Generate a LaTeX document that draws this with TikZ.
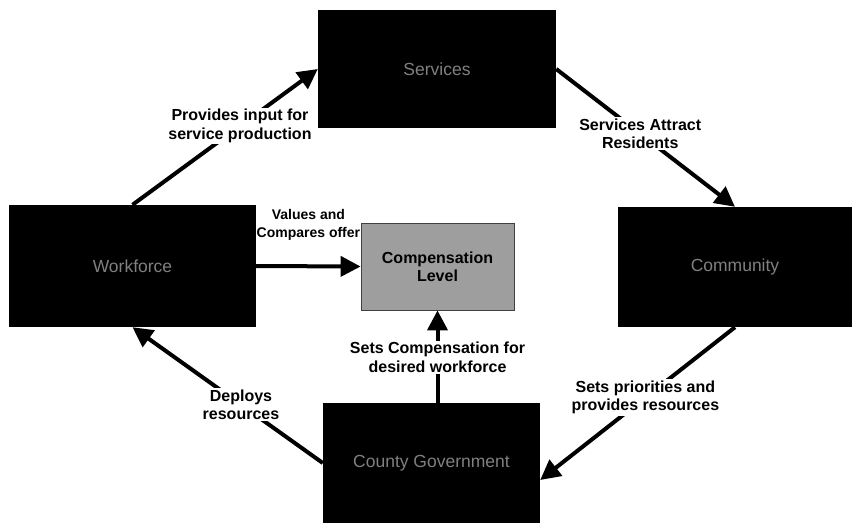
\documentclass[tikz,border=0pt]{standalone}
\usepackage{fontspec}
\setmainfont{Liberation Sans}
\usetikzlibrary{arrows.meta}

\begin{document}
\begin{tikzpicture}[x=1pt, y=-1pt,
		darkbox/.style={fill=black, text=black!50, inner sep=0pt, font=\fontsize{17.5}{20}\selectfont},
		compbox/.style={fill=black!38, draw=black!75, line width=0.8pt, inner sep=0pt, align=center, font=\bfseries\fontsize{16}{18}\selectfont},
		flow/.style={line width=4pt, -{Triangle[length=20pt,width=20pt]}},
		lbl/.style={fill=white, inner sep=1.5pt, align=center, font=\bfseries\fontsize{16}{18.5}\selectfont}]
			\useasboundingbox (0,0) rectangle (852,523);

			% Boxes
			\node[darkbox, minimum width=238pt, minimum height=118pt] (services) at (437,69) {Services};
			\node[darkbox, minimum width=247pt, minimum height=122pt] (workforce) at (132.5,266) {Workforce};
			\node[darkbox, minimum width=234pt, minimum height=120pt] (community) at (735,267) {Community};
			\node[darkbox, minimum width=217pt, minimum height=120pt] (county) at (431.5,463) {County Government};
			\node[compbox, minimum width=153pt, minimum height=87pt] (comp) at (437.5,266.5) {Compensation\\Level};

			% Cycle
			\draw[flow] (workforce.north) -- (services.west) node[lbl, pos=0.58] (input) {Provides input for\\service production};
			\draw[flow] (services.east) -- (community.north) node[lbl, pos=0.47] (attract) {Services Attract\\Residents};
			\draw[flow] (community.south) -- ([yshift=-17pt]county.east) node[lbl, pos=0.46] (priorities) {Sets priorities and\\provides resources};
			\draw[flow] (county.west) -- (workforce.south) node[lbl, pos=0.43] (deploys) {Deploys\\resources};

			% Compensation
			\draw[flow] (workforce.east) -- (comp.west) node[lbl, fill=none, pos=0.5, above=22pt, font=\bfseries\fontsize{14}{18}\selectfont] (values) {Values and\\Compares offer};
			\draw[flow] (county.north -| comp.south) -- (comp.south) node[lbl, pos=0.49] (sets) {Sets Compensation for\\desired workforce};
		\end{tikzpicture}
\end{document}
